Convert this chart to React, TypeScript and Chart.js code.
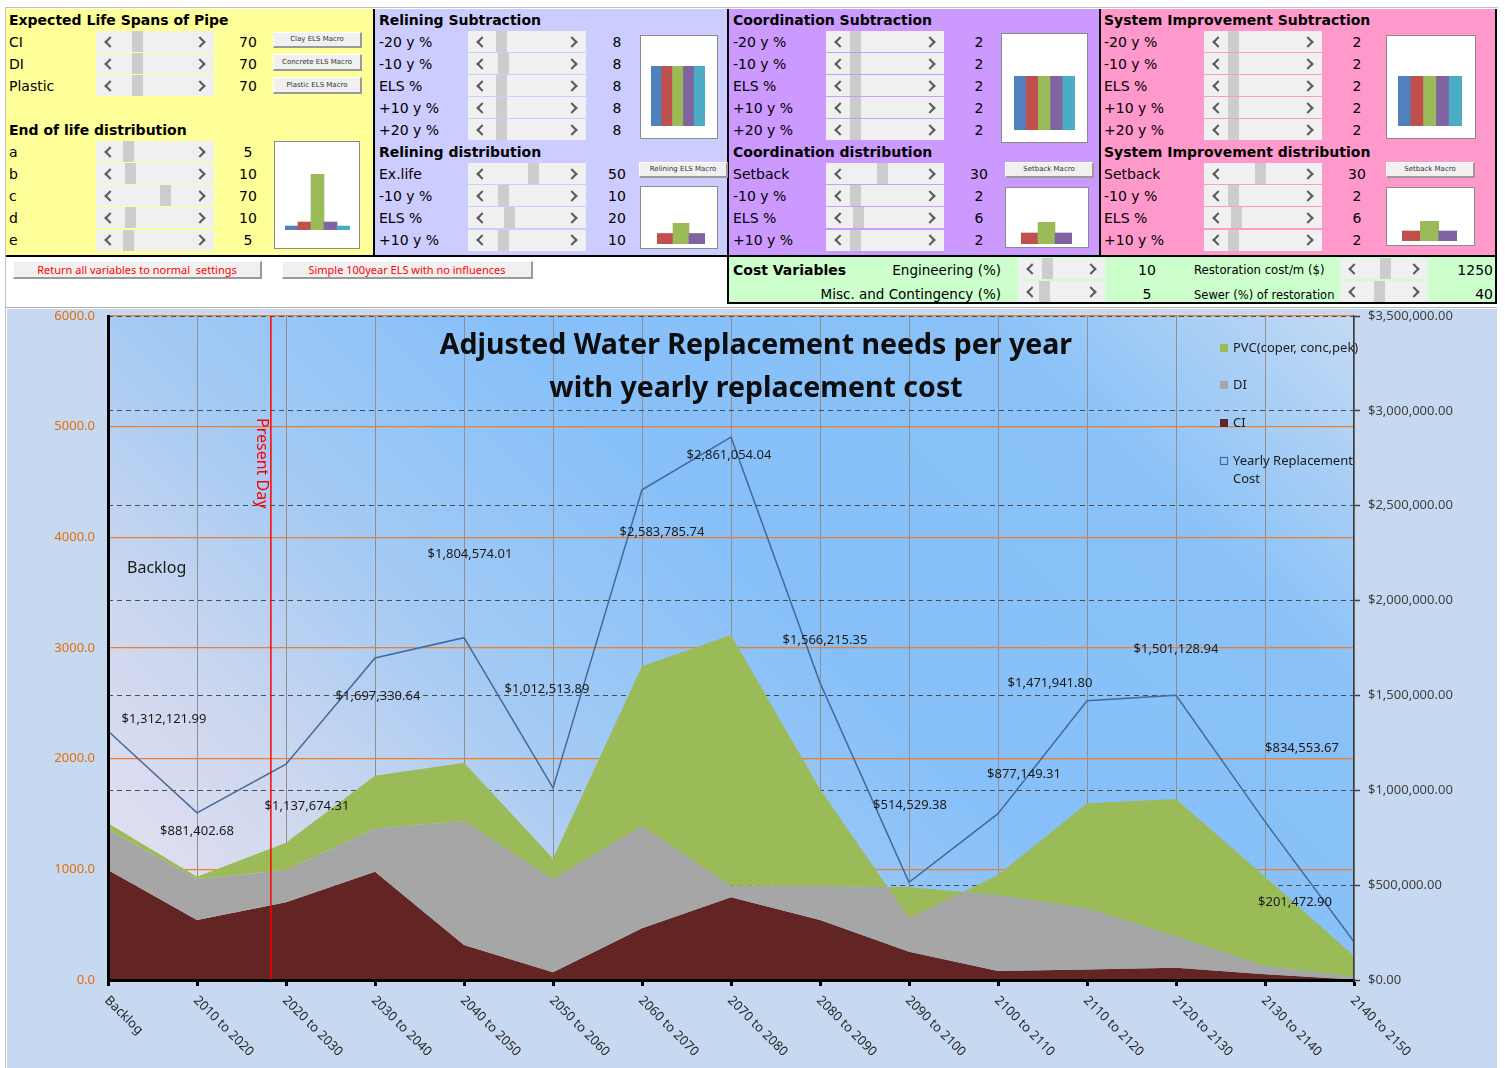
import React, { useEffect, useRef } from 'react';
import { Chart, registerables } from 'chart.js';

Chart.register(...registerables);

// ---------------- main chart data ----------------
const categories = [
  'Backlog', '2010 to 2020', '2020 to 2030', '2030 to 2040', '2040 to 2050',
  '2050 to 2060', '2060 to 2070', '2070 to 2080', '2080 to 2090', '2090 to 2100',
  '2100 to 2110', '2110 to 2120', '2120 to 2130', '2130 to 2140', '2140 to 2150',
];
const ciValues = [994, 542, 702, 979, 316, 69, 467, 747, 542, 256, 81, 96, 111, 51, 5];
const diValues = [368, 370, 292, 391, 1121, 843, 924, 105, 307, 582, 687, 552, 281, 75, 25];
const pvcValues = [54, 22, 247, 476, 527, 187, 1443, 2265, 876, -281, 181, 949, 1243, 808, 187];
const costValues = [
  1312121.99, 881402.68, 1137674.31, 1697330.64, 1804574.01, 1012513.89, 2583785.74,
  2861054.04, 1566215.35, 514529.38, 877149.31, 1471941.8, 1501128.94, 834553.67, 201472.9,
];
const needsAxisMax = 6000;
const needsAxisStep = 1000;
const costAxisMax = 3500000;
const costAxisStep = 500000;
const presentDayPosition = 1.83;
const chartTitle = ['Adjusted Water Replacement needs per year', 'with yearly replacement cost'];
const legendLabels = ['PVC(coper, conc,pek)', 'DI', 'CI', 'Yearly Replacement', 'Cost'];
// label placement offsets (px) relative to each cost point
const labelOffsets = [
  [56, -12], [0, 19], [21, 42], [3, 38], [6, -83], [-6, -99], [20, 42], [-2, 18],
  [5, -43], [1, -77], [26, -39], [-37, -17], [0, -46], [37, -73], [-59, -39],
];

// ---------------- control panel data ----------------
const pipeTypes = ['CI', 'DI', 'Plastic'];
const lifeSpans = [70, 70, 70];
const eolLabels = ['a', 'b', 'c', 'd', 'e'];
const eolValues = [5, 10, 70, 10, 5];
const subLabels = ['-20 y %', '-10 y %', 'ELS %', '+10 y %', '+20 y %'];
const relSubValues = [8, 8, 8, 8, 8];
const relDistLabels = ['Ex.life', '-10 y %', 'ELS %', '+10 y %'];
const relDistValues = [50, 10, 20, 10];
const coordSubValues = [2, 2, 2, 2, 2];
const setbackLabels = ['Setback', '-10 y %', 'ELS %', '+10 y %'];
const coordDistValues = [30, 2, 6, 2];
const sysSubValues = [2, 2, 2, 2, 2];
const sysDistValues = [30, 2, 6, 2];
const costVarValues = [10, 5, 1250, 40];

// slider thumb offsets (layout)
const lifeThumbs = [36, 36, 36];
const eolThumbs = [27, 29, 64, 29, 27];
const relSubThumbs = [28, 30, 28, 28, 28];
const relDistThumbs = [60, 30, 36, 30];
const coordSubThumbs = [24, 24, 24, 24, 24];
const coordDistThumbs = [51, 24, 27, 24];
const sysSubThumbs = [24, 24, 24, 24, 24];
const sysDistThumbs = [51, 24, 27, 24];

const C5 = ['#4f81bd', '#c0504d', '#9bbb59', '#8064a2', '#4bacc6'];
const C3 = ['#c0504d', '#9bbb59', '#8064a2'];

const SHEET_FONT = '"DejaVu Sans", Verdana, sans-serif';
const CHART_FONT = '"Noto Sans", "Open Sans", sans-serif';

const ry = (k: number) => 19.5 + 22.05 * k;

function T(props: { x: number; y: number; text: string; bold?: boolean; size?: number; align?: 'left' | 'right' | 'center'; color?: string; font?: string }) {
  const { x, y, text, bold = false, size = 14, align = 'left', color = '#000', font = SHEET_FONT } = props;
  const w = 400;
  const left = align === 'left' ? x : align === 'right' ? x - w : x - w / 2;
  return (
    <div style={{ position: 'absolute', left, top: y - 10, width: w, height: 20, lineHeight: '20px', fontSize: size, fontWeight: bold ? 'bold' : 'normal', textAlign: align, color, fontFamily: font, whiteSpace: 'pre' }}>{text}</div>
  );
}

function Chevron({ x, dir }: { x: number; dir: 'l' | 'r' }) {
  const s: any = { position: 'absolute', left: x, top: 6.5, width: 6, height: 6, transform: 'rotate(45deg)' };
  if (dir === 'l') { s.borderLeft = '2px solid #5a5a5a'; s.borderBottom = '2px solid #5a5a5a'; }
  else { s.borderRight = '2px solid #5a5a5a'; s.borderTop = '2px solid #5a5a5a'; }
  return <div style={s} />;
}

function Slider({ x, y, w = 118, thumb }: { x: number; y: number; w?: number; thumb: number }) {
  return (
    <div style={{ position: 'absolute', left: x, top: y - 10.5, width: w, height: 21, background: '#f0f0f0' }}>
      <div style={{ position: 'absolute', left: thumb, top: 0, width: 11, height: 21, background: '#cdcdcd' }} />
      <Chevron x={10} dir="l" />
      <Chevron x={w - 18} dir="r" />
    </div>
  );
}

function Btn({ x, y, w, h, text, size = 7, color = '#333', font = SHEET_FONT }: { x: number; y: number; w: number; h: number; text: string; size?: number; color?: string; font?: string }) {
  return (
    <div style={{ position: 'absolute', left: x, top: y, width: w, height: h, boxSizing: 'border-box', background: '#f0f0f0', borderTop: '1px solid #ffffff', borderLeft: '1px solid #ffffff', borderRight: '2px solid #9a9a9a', borderBottom: '2px solid #9a9a9a', fontSize: size, lineHeight: (h - 3) + 'px', textAlign: 'center', color, fontFamily: font, whiteSpace: 'pre', overflow: 'hidden' }}>{text}</div>
  );
}

function Box({ x, y, w, h }: { x: number; y: number; w: number; h: number }) {
  return <div style={{ position: 'absolute', left: x, top: y, width: w, height: h, boxSizing: 'border-box', background: '#fff', border: '1px solid #8a8a8a' }} />;
}

function MiniBar({ x, y, w, h, data, colors, min = 0, max }: { x: number; y: number; w: number; h: number; data: number[]; colors: string[]; min?: number; max: number }) {
  const ref = useRef<HTMLCanvasElement>(null);
  useEffect(() => {
    const chart = new Chart(ref.current as HTMLCanvasElement, {
      type: 'bar',
      data: {
        labels: data.map((_, i) => String(i)),
        datasets: [{ data, backgroundColor: colors, base: min, barPercentage: 1, categoryPercentage: 1, borderWidth: 0 } as any],
      },
      options: {
        animation: false, responsive: false, events: [],
        layout: { padding: 0 },
        plugins: { legend: { display: false }, tooltip: { enabled: false } },
        scales: { x: { display: false }, y: { display: false, min, max } },
      },
    });
    return () => chart.destroy();
  }, []);
  return <canvas ref={ref} width={w} height={h} style={{ position: 'absolute', left: x, top: y, width: w, height: h }} />;
}

const fmtMoney = (v: number) => '$' + v.toLocaleString('en-US', { minimumFractionDigits: 2, maximumFractionDigits: 2 });

function MainChart() {
  const ref = useRef<HTMLCanvasElement>(null);
  useEffect(() => {
    const cumCI = ciValues.slice();
    const cumDI = ciValues.map((v, i) => v + diValues[i]);
    const cumPVC = cumDI.map((v, i) => v + pvcValues[i]);
    const LINE = '#44699a';
    const decor = {
      id: 'decor',
      beforeDraw(chart: any) {
        const { ctx, chartArea: a } = chart;
        const w = a.right - a.left, h = a.bottom - a.top, d = (w + h) / 2;
        const g = ctx.createLinearGradient(a.left, a.bottom, a.left + d, a.bottom - d);
        g.addColorStop(0, '#ebe3f1');
        g.addColorStop(0.2, '#cdd7ef');
        g.addColorStop(0.36, '#a3caf4');
        g.addColorStop(0.55, '#87c0f9');
        g.addColorStop(0.8, '#89c1f8');
        g.addColorStop(1, '#c3daf3');
        ctx.save();
        ctx.fillStyle = g;
        ctx.fillRect(a.left, a.top, w, h);
        ctx.restore();
      },
      afterDatasetsDraw(chart: any) {
        const { ctx, chartArea: a, scales } = chart;
        const px = scales.x.getPixelForValue(presentDayPosition);
        ctx.save();
        ctx.strokeStyle = '#ff0000';
        ctx.lineWidth = 1.5;
        ctx.beginPath();
        ctx.moveTo(px, a.top);
        ctx.lineTo(px, a.bottom);
        ctx.stroke();
        ctx.translate(px - 1, a.top + 102);
        ctx.rotate(Math.PI / 2);
        ctx.font = `16px ${CHART_FONT}`;
        ctx.fillStyle = '#ff0000';
        ctx.textAlign = 'left';
        ctx.textBaseline = 'top';
        ctx.fillText('Present Day', 0, 0);
        ctx.restore();
      },
      afterDraw(chart: any) {
        const { ctx, chartArea: a, scales } = chart;
        const xs = scales.x;
        ctx.save();
        // category labels rotated 45 degrees
        ctx.font = `13px ${CHART_FONT}`;
        ctx.fillStyle = '#262626';
        ctx.textAlign = 'left';
        ctx.textBaseline = 'alphabetic';
        categories.forEach((c, i) => {
          const px = xs.getPixelForValue(i);
          ctx.save();
          ctx.translate(px - 4, a.bottom + 21);
          ctx.rotate(Math.PI / 4);
          ctx.fillText(c, 0, 0);
          ctx.restore();
        });
        // data labels
        const meta = chart.getDatasetMeta(0);
        ctx.textAlign = 'center';
        ctx.textBaseline = 'middle';
        ctx.fillStyle = '#1a1a1a';
        meta.data.forEach((pt: any, i: number) => {
          const [dx, dy] = labelOffsets[i];
          ctx.fillText(fmtMoney(costValues[i]), pt.x + dx, pt.y + dy);
        });
        // Backlog annotation
        ctx.font = `16px ${CHART_FONT}`;
        ctx.textAlign = 'left';
        ctx.fillText('Backlog', xs.getPixelForValue(0) + 19, a.top + 252);
        // title
        ctx.font = `bold 28.5px ${CHART_FONT}`;
        ctx.fillStyle = '#0d0d0d';
        ctx.textAlign = 'center';
        const cx = a.left + 0.52 * (a.right - a.left);
        ctx.fillText(chartTitle[0], cx, a.top + 30);
        ctx.fillText(chartTitle[1], cx, a.top + 73);
        // legend
        const lx = a.right - 134;
        const tx = a.right - 121;
        ctx.font = `13px ${CHART_FONT}`;
        ctx.textAlign = 'left';
        ctx.fillStyle = '#9bbb59'; ctx.fillRect(lx, a.top + 28, 8, 8);
        ctx.fillStyle = '#a6a6a6'; ctx.fillRect(lx, a.top + 65, 8, 8);
        ctx.fillStyle = '#632523'; ctx.fillRect(lx, a.top + 103, 8, 8);
        ctx.strokeStyle = LINE; ctx.lineWidth = 1.2; ctx.strokeRect(lx + 0.5, a.top + 141.5, 7, 7);
        ctx.fillStyle = '#1a1a1a';
        ctx.fillText(legendLabels[0], tx, a.top + 32);
        ctx.fillText(legendLabels[1], tx, a.top + 69);
        ctx.fillText(legendLabels[2], tx, a.top + 107);
        ctx.fillText(legendLabels[3], tx, a.top + 145);
        ctx.fillText(legendLabels[4], tx, a.top + 163);
        ctx.restore();
      },
    };

    const noLine = 'rgba(0,0,0,0)';
    const chart = new Chart(ref.current as HTMLCanvasElement, {
      type: 'line',
      data: {
        labels: categories,
        datasets: [
          { label: 'Yearly Replacement Cost', data: costValues, yAxisID: 'y2', borderColor: LINE, borderWidth: 1.5, pointRadius: 0, fill: false, tension: 0, order: 0 },
          { label: 'CI', data: cumCI, yAxisID: 'y', borderColor: noLine, borderWidth: 0, backgroundColor: '#632523', pointRadius: 0, fill: 'origin', tension: 0, order: 3 },
          { label: 'DI', data: cumDI, yAxisID: 'y', borderColor: noLine, borderWidth: 0, backgroundColor: '#a6a6a6', pointRadius: 0, fill: '-1', tension: 0, order: 2 },
          { label: 'PVC(coper, conc,pek)', data: cumPVC, yAxisID: 'y', borderColor: noLine, borderWidth: 0, backgroundColor: '#9bbb59', pointRadius: 0, fill: '-1', tension: 0, order: 1 },
        ] as any,
      },
      options: {
        animation: false,
        responsive: false,
        events: [],
        layout: { padding: { top: 7, left: 0, right: 0, bottom: 0 } },
        plugins: { legend: { display: false }, tooltip: { enabled: false }, title: { display: false } },
        scales: {
          x: {
            type: 'category',
            offset: false,
            grid: { color: '#8f8f8f', lineWidth: 1, drawTicks: true, tickLength: 6, tickWidth: 3, tickColor: '#000' },
            border: { color: '#000', width: 3, z: 1 } as any,
            ticks: { display: false },
            afterFit: (s: any) => { s.height = 88; s.paddingLeft = 0; s.paddingRight = 0; },
          },
          y: {
            position: 'left',
            min: 0,
            max: needsAxisMax,
            ticks: { stepSize: needsAxisStep, color: '#e46c0a', font: { family: CHART_FONT, size: 13 }, padding: 13, callback: (v: any) => Number(v).toFixed(1) },
            grid: { color: '#ee7d2c', lineWidth: 1.2, drawTicks: false },
            border: { color: '#000', width: 3, z: 1 } as any,
            afterFit: (s: any) => { s.width = 101; s.paddingTop = 0; s.paddingBottom = 0; },
          },
          y2: {
            position: 'right',
            min: 0,
            max: costAxisMax,
            ticks: { stepSize: costAxisStep, color: '#404040', font: { family: CHART_FONT, size: 13 }, padding: 8, callback: (v: any) => fmtMoney(Number(v)) },
            grid: { color: '#4d4d4d', lineWidth: 1, drawTicks: true, tickLength: 6, tickColor: '#404040', tickWidth: 1.5 },
            border: { color: '#404040', width: 1.5, dash: [5, 4], z: 1 } as any,
            afterFit: (s: any) => { s.width = 143; s.paddingTop = 0; s.paddingBottom = 0; },
          },
        } as any,
      },
      plugins: [decor],
    });
    return () => chart.destroy();
  }, []);
  return <canvas ref={ref} width={1490} height={759} style={{ position: 'absolute', left: 7, top: 309, width: 1490, height: 759, background: '#c6d9f1' }} />;
}

function Panel({ x, w, color }: { x: number; w: number; color: string }) {
  return <div style={{ position: 'absolute', left: x, top: 9, width: w, height: 246, background: color }} />;
}

function Black({ x, y, w, h }: { x: number; y: number; w: number; h: number }) {
  return <div style={{ position: 'absolute', left: x, top: y, width: w, height: h, background: '#000' }} />;
}

export default function App() {
  return (
    <div style={{ position: 'absolute', left: 0, top: 0, width: 1505, height: 1068, overflow: 'hidden', background: '#fff', fontFamily: SHEET_FONT }}>
      <div style={{ position: 'absolute', left: 5, top: 7, width: 1493, height: 1, background: '#c0c0c0' }} />
      <div style={{ position: 'absolute', left: 5, top: 7, width: 1, height: 1061, background: '#c0c0c0' }} />

      <Panel x={6} w={367} color="#ffff99" />
      <Panel x={375} w={352} color="#ccccff" />
      <Panel x={729} w={370} color="#cc99ff" />
      <Panel x={1101} w={394} color="#ff99cc" />
      <div style={{ position: 'absolute', left: 729, top: 257, width: 766, height: 45, background: '#ccffcc' }} />

      <Black x={373} y={9} w={2} h={248} />
      <Black x={727} y={9} w={2} h={295} />
      <Black x={1099} y={9} w={2} h={248} />
      <Black x={1495} y={9} w={2} h={295} />
      <Black x={6} y={255} w={1491} h={2} />
      <Black x={727} y={302} w={770} h={2} />
      <div style={{ position: 'absolute', left: 6, top: 307, width: 1491, height: 1, background: '#b0b0b0' }} />

      {/* ---------- yellow panel ---------- */}
      <T x={9} y={ry(0)} text="Expected Life Spans of Pipe" bold />
      {pipeTypes.map((p, i) => (
        <React.Fragment key={p}>
          <T x={9} y={ry(i + 1)} text={p} />
          <Slider x={96} y={ry(i + 1)} thumb={lifeThumbs[i]} />
          <T x={248} y={ry(i + 1)} text={String(lifeSpans[i])} align="center" />
        </React.Fragment>
      ))}
      <Btn x={273} y={32} w={89} h={16} text="Clay ELS Macro" />
      <Btn x={273} y={54} w={89} h={17} text="Concrete ELS Macro" />
      <Btn x={273} y={77} w={89} h={17} text="Plastic ELS Macro" />
      <T x={9} y={ry(5)} text="End of life distribution" bold />
      {eolLabels.map((p, i) => (
        <React.Fragment key={p}>
          <T x={9} y={ry(i + 6)} text={p} />
          <Slider x={96} y={ry(i + 6)} thumb={eolThumbs[i]} />
          <T x={248} y={ry(i + 6)} text={String(eolValues[i])} align="center" />
        </React.Fragment>
      ))}
      <Box x={274} y={141} w={86} h={108} />
      <MiniBar x={285} y={174} w={65} h={56} data={eolValues} colors={C5} max={70} />

      {/* ---------- lavender panel ---------- */}
      <T x={379} y={ry(0)} text="Relining Subtraction" bold />
      {subLabels.map((p, i) => (
        <React.Fragment key={'rs' + i}>
          <T x={379} y={ry(i + 1)} text={p} />
          <Slider x={468} y={ry(i + 1)} thumb={relSubThumbs[i]} />
          <T x={617} y={ry(i + 1)} text={String(relSubValues[i])} align="center" />
        </React.Fragment>
      ))}
      <Box x={640} y={35} w={78} h={104} />
      <MiniBar x={651} y={66} w={54} h={60} data={relSubValues} colors={C5} max={8} />
      <T x={379} y={ry(6)} text="Relining distribution" bold />
      {relDistLabels.map((p, i) => (
        <React.Fragment key={'rd' + i}>
          <T x={379} y={ry(i + 7)} text={p} />
          <Slider x={468} y={ry(i + 7)} thumb={relDistThumbs[i]} />
          <T x={617} y={ry(i + 7)} text={String(relDistValues[i])} align="center" />
        </React.Fragment>
      ))}
      <Btn x={639} y={162} w={89} h={16} text="Relining ELS Macro" />
      <Box x={640} y={186} w={78} h={63} />
      <MiniBar x={657} y={223} w={48} h={21} data={relDistValues.slice(1)} colors={C3} max={20} />

      {/* ---------- purple panel ---------- */}
      <T x={733} y={ry(0)} text="Coordination Subtraction" bold />
      {subLabels.map((p, i) => (
        <React.Fragment key={'cs' + i}>
          <T x={733} y={ry(i + 1)} text={p} />
          <Slider x={826} y={ry(i + 1)} thumb={coordSubThumbs[i]} />
          <T x={979} y={ry(i + 1)} text={String(coordSubValues[i])} align="center" />
        </React.Fragment>
      ))}
      <Box x={1001} y={33} w={87} h={110} />
      <MiniBar x={1014} y={76} w={61} h={54} data={coordSubValues} colors={C5} max={2} />
      <T x={733} y={ry(6)} text="Coordination distribution" bold />
      {setbackLabels.map((p, i) => (
        <React.Fragment key={'cd' + i}>
          <T x={733} y={ry(i + 7)} text={p} />
          <Slider x={826} y={ry(i + 7)} thumb={coordDistThumbs[i]} />
          <T x={979} y={ry(i + 7)} text={String(coordDistValues[i])} align="center" />
        </React.Fragment>
      ))}
      <Btn x={1005} y={162} w={89} h={16} text="Setback Macro" />
      <Box x={1005} y={187} w={84} h={61} />
      <MiniBar x={1021} y={222} w={51} h={22} data={coordDistValues.slice(1)} colors={C3} min={-2} max={6} />

      {/* ---------- pink panel ---------- */}
      <T x={1104} y={ry(0)} text="System Improvement Subtraction" bold />
      {subLabels.map((p, i) => (
        <React.Fragment key={'ss' + i}>
          <T x={1104} y={ry(i + 1)} text={p} />
          <Slider x={1204} y={ry(i + 1)} thumb={sysSubThumbs[i]} />
          <T x={1357} y={ry(i + 1)} text={String(sysSubValues[i])} align="center" />
        </React.Fragment>
      ))}
      <Box x={1386} y={35} w={90} h={104} />
      <MiniBar x={1398} y={76} w={64} h={50} data={sysSubValues} colors={C5} max={2} />
      <T x={1104} y={ry(6)} text="System Improvement distribution" bold />
      {setbackLabels.map((p, i) => (
        <React.Fragment key={'sd' + i}>
          <T x={1104} y={ry(i + 7)} text={p} />
          <Slider x={1204} y={ry(i + 7)} thumb={sysDistThumbs[i]} />
          <T x={1357} y={ry(i + 7)} text={String(sysDistValues[i])} align="center" />
        </React.Fragment>
      ))}
      <Btn x={1386} y={162} w={89} h={16} text="Setback Macro" />
      <Box x={1386} y={187} w={89} h={59} />
      <MiniBar x={1402} y={221} w={55} h={20} data={sysDistValues.slice(1)} colors={C3} min={-2} max={6} />

      {/* ---------- second row ---------- */}
      <Btn x={13} y={261} w={249} h={18} text="Return all variables to normal  settings" size={11} color="#ff0000" font={CHART_FONT} />
      <Btn x={282} y={261} w={251} h={18} text="Simple 100year ELS with no influences" size={11} color="#ff0000" font={CHART_FONT} />

      <T x={733} y={269.5} text="Cost Variables" bold />
      <T x={1001} y={269.5} text="Engineering (%)" align="right" size={13.5} />
      <T x={1001} y={294} text="Misc. and Contingency (%)" align="right" size={13.5} />
      <Slider x={1018} y={268.5} w={87} thumb={24} />
      <Slider x={1018} y={291.5} w={87} thumb={21} />
      <T x={1147} y={269.5} text={String(costVarValues[0])} align="center" />
      <T x={1147} y={294} text={String(costVarValues[1])} align="center" />
      <T x={1194} y={270} text="Restoration cost/m ($)" size={11.7} />
      <T x={1194} y={295} text="Sewer (%) of restoration" size={11.5} />
      <Slider x={1340} y={268.5} w={88} thumb={40} />
      <Slider x={1340} y={291.5} w={88} thumb={34} />
      <T x={1493} y={269.5} text={String(costVarValues[2])} align="right" />
      <T x={1493} y={294} text={String(costVarValues[3])} align="right" />

      <MainChart />
    </div>
  );
}
